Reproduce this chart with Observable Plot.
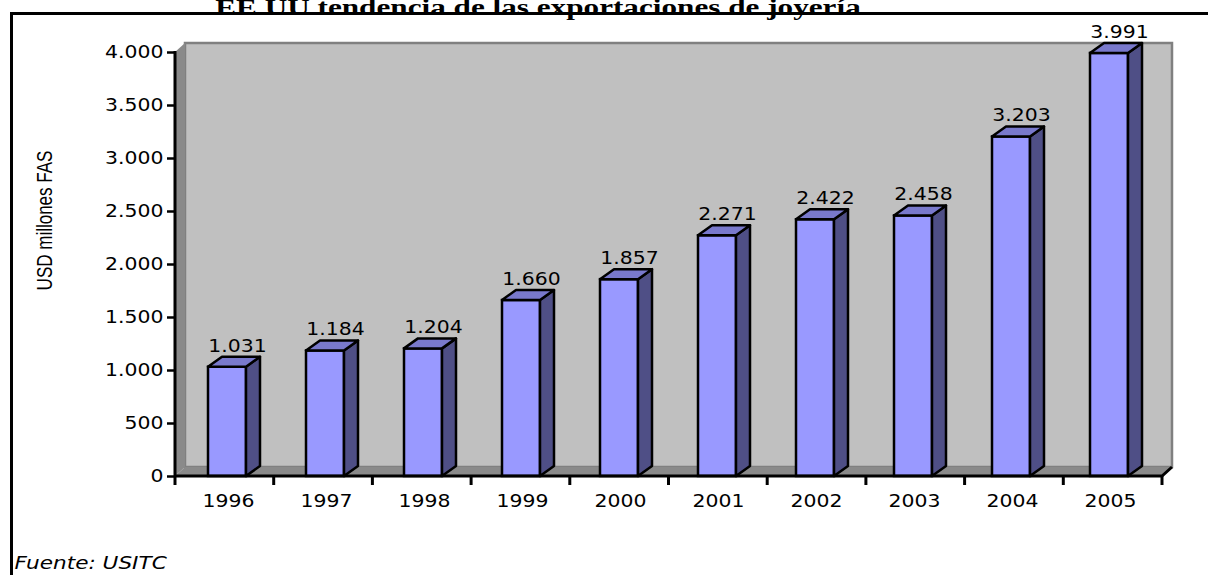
<!DOCTYPE html>
<html><head><meta charset="utf-8">
<script src="https://cdn.jsdelivr.net/npm/d3@7"></script>
<script src="https://cdn.jsdelivr.net/npm/@observablehq/plot@0.6"></script>
<style>html,body{margin:0;padding:0;background:#fff;overflow:hidden}</style>
</head><body><div id="chart"></div>
<script>
const years = ["1996","1997","1998","1999","2000","2001","2002","2003","2004","2005"];
const values = [1031,1184,1204,1660,1857,2271,2422,2458,3203,3991];
const yTicks = [0,500,1000,1500,2000,2500,3000,3500,4000];
const titleText = "EE UU tendencia de las exportaciones de joyería";
const yLabelText = "USD millones FAS";
const sourceText = "Fuente: USITC";

const data = years.map((year, i) => ({year, value: values[i]}));
const loc = d3.formatLocale({decimal: ",", thousands: ".", grouping: [3], currency: ["", ""]});
const fmt = loc.format(",d");

const W = 1208, H = 575;
const plot = Plot.plot({
  width: W, height: H,
  marginLeft: 175, marginRight: W - 1162, marginTop: 52, marginBottom: H - 476,
  style: {fontFamily: "'DejaVu Sans', Verdana, sans-serif", fontSize: "17px", background: "#fff", color: "#000", overflow: "hidden"},
  x: {type: "band", domain: years, padding: 0, label: null},
  y: {domain: [0, 4000], label: null},
  marks: [
    Plot.barY(data, {x: "year", y: "value", fill: "#9999ff", stroke: "#000", strokeWidth: 2.5, insetLeft: 29, insetRight: 31, className: "bar3d"}),
    Plot.text(data, {x: "year", y: "value", text: d => fmt(d.value), dx: 9, dy: -21, fontSize: 17, className: "s12"}),
    Plot.axisY({ticks: yTicks, tickFormat: fmt, tickSize: 8, tickPadding: 4, strokeWidth: 2.5, fontSize: 17, className: "s12"}),
    Plot.axisX({tickSize: 0, tickPadding: 18, fontSize: 17, className: "s12"}),
    Plot.text([titleText], {frameAnchor: "top", text: d => d, dx: -131, dy: -38, lineAnchor: "bottom", fontFamily: "'Liberation Serif', 'Times New Roman', serif", fontWeight: "bold", fontSize: 24, className: "s13"}),
    Plot.text([yLabelText], {frameAnchor: "left", textAnchor: "middle", text: d => d, rotate: -90, dx: -130, dy: -44, fontFamily: "'Liberation Sans', Arial, sans-serif", fontSize: 17, className: "s125"}),
    Plot.text([sourceText], {frameAnchor: "bottom-left", text: d => d, dx: -161, dy: 92, textAnchor: "start", lineAnchor: "bottom", fontStyle: "italic", fontSize: 18, className: "s115"})
  ]
});
document.getElementById("chart").appendChild(plot);

const NS = "http://www.w3.org/2000/svg";
const svg = d3.select(plot);
const xs = plot.scale("x"), ys = plot.scale("y");
const X0 = xs.range[0], X1 = xs.range[1];
const Y0 = ys.range[0], Y1 = ys.range[1];
const step = (X1 - X0) / years.length;
const dw = 10, dh = 9;

// 3D walls, inserted beneath everything
const first = plot.querySelector("g");
const walls = document.createElementNS(NS, "g");
plot.insertBefore(walls, first);
const wg = d3.select(walls);
wg.append("rect").attr("x", X0 + dw).attr("y", Y1 - dh).attr("width", X1 - X0).attr("height", Y0 - Y1)
  .attr("fill", "#c0c0c0").attr("stroke", "#808080").attr("stroke-width", 2.5);
wg.append("path").attr("d", `M${X0},${Y0}L${X0},${Y1}L${X0 + dw},${Y1 - dh}L${X0 + dw},${Y0 - dh}Z`).attr("fill", "#8a8a8a");
wg.append("path").attr("d", `M${X0},${Y0}L${X0 + dw},${Y0 - dh}L${X1 + dw},${Y0 - dh}L${X1},${Y0}Z`).attr("fill", "#8a8a8a");

// bar side and top faces
svg.selectAll("g.bar3d rect").each(function() {
  const r = d3.select(this);
  const x = +r.attr("x"), y = +r.attr("y"), w = +r.attr("width"), h = +r.attr("height");
  const g = d3.select(this.parentNode);
  const bd = 14, bh = 10;
  g.append("path").attr("d", `M${x + w},${y + h}L${x + w},${y}L${x + w + bd},${y - bh}L${x + w + bd},${y + h - bh}Z`)
    .attr("fill", "#4f4f86").attr("stroke", "#000").attr("stroke-width", 2.5).attr("stroke-linejoin", "round");
  g.append("path").attr("d", `M${x},${y}L${x + bd},${y - bh}L${x + w + bd},${y - bh}L${x + w},${y}Z`)
    .attr("fill", "#7979cc").attr("stroke", "#000").attr("stroke-width", 2.5).attr("stroke-linejoin", "round");
});

// axes lines and ticks
const ax = svg.append("g").attr("stroke", "#000").attr("stroke-width", 3).attr("fill", "none");
ax.append("path").attr("d", `M${X0},${Y0}L${X0},${Y1 - 1}`);
ax.append("path").attr("d", `M${X0},${Y0}L${X1},${Y0}L${X1 + dw},${Y0 - dh}`);
for (let k = 0; k <= years.length; k++) {
  const x = X0 + k * step;
  ax.append("path").attr("d", `M${x},${Y0}L${x},${Y0 + 9}`);
}
// outer box
svg.append("path").attr("d", `M11.5,${H + 5}L11.5,13.5L${W + 5},13.5`).attr("stroke", "#000").attr("stroke-width", 3).attr("fill", "none");

// horizontal stretch of text (reference glyphs are wide)
const factors = {s12: 1.2, s13: 1.3, s115: 1.2, s125: 1.25};
plot.querySelectorAll("text").forEach(t => {
  const tr = t.getAttribute("transform") || "";
  const holder = t.closest("g[class]");
  let s = 1;
  if (holder) for (const c of holder.classList) if (factors[c]) s = factors[c];
  if (s === 1) return;
  let tx = 0, ty = 0;
  const m = /translate\(\s*([-\d.e]+)[\s,]+([-\d.e]+)\s*\)/.exec(tr);
  if (m) { tx = +m[1]; ty = +m[2]; }
  const axp = tx + (+t.getAttribute("x") || 0), ayp = ty + (+t.getAttribute("y") || 0);
  const g = document.createElementNS(NS, "g");
  g.setAttribute("transform", `translate(${axp},${ayp}) scale(${s},1) translate(${-axp},${-ayp})`);
  t.parentNode.insertBefore(g, t);
  g.appendChild(t);
});
</script>
</body></html>
